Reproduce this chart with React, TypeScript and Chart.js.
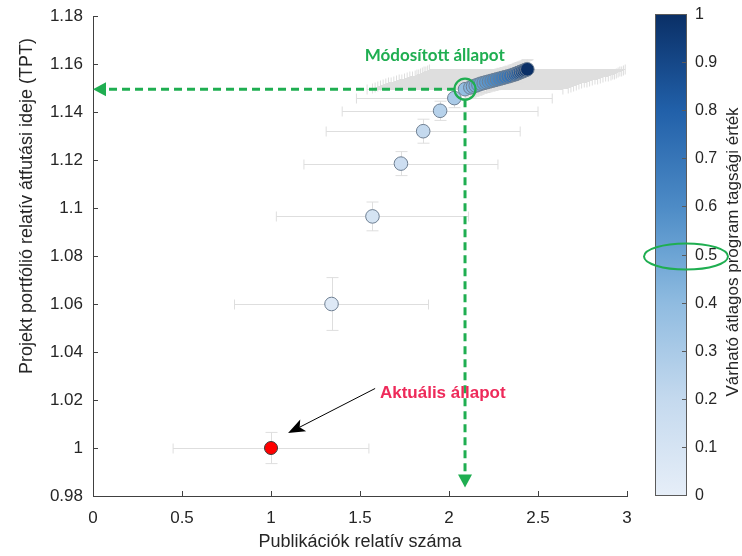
import React, { useEffect, useRef } from "react";
import { Chart, registerables } from "chart.js";

Chart.register(...registerables);

// ---------- data ----------
const xTicks = [0, 0.5, 1, 1.5, 2, 2.5, 3];
const yTicks = [0.98, 1.0, 1.02, 1.04, 1.06, 1.08, 1.1, 1.12, 1.14, 1.16, 1.18];
const cbTicks = [0, 0.1, 0.2, 0.3, 0.4, 0.5, 0.6, 0.7, 0.8, 0.9, 1];

const xTitle = "Publikációk relatív száma";
const yTitle = "Projekt portfólió relatív átfutási ideje (TPT)";
const cbTitle = "Várható átlagos program tagsági érték";
const modifiedLabel = "Módosított állapot";
const currentLabel = "Aktuális állapot";

// current state (red point)
const currentX = [1.0];
const currentY = [1.0];
const currentXErr = [0.55];
const currentYErr = [0.0065];

// path of states, coloured by expected membership value
const pathX = [1.34, 1.57, 1.73, 1.855, 1.95, 2.03, 2.09,
  2.12, 2.135, 2.15, 2.165, 2.18, 2.195, 2.21, 2.225, 2.24, 2.255, 2.27, 2.285, 2.3,
  2.315, 2.33, 2.345, 2.36, 2.37, 2.38, 2.39, 2.4, 2.41, 2.42, 2.43, 2.44];
const pathY = [1.06, 1.0965, 1.1185, 1.132, 1.1405, 1.1458, 1.1495,
  1.1502, 1.1506, 1.151, 1.1514, 1.1518, 1.1521, 1.1524, 1.1527, 1.153, 1.1533, 1.1536, 1.1539, 1.1542,
  1.1545, 1.1548, 1.1551, 1.1555, 1.1557, 1.156, 1.1563, 1.1566, 1.1569, 1.1572, 1.1575, 1.1578];
const pathXErr = [0.545, 0.54, 0.545, 0.545, 0.55, 0.55, 0.55,
  0.55, 0.55, 0.55, 0.55, 0.55, 0.55, 0.55, 0.55, 0.55, 0.55, 0.55, 0.55, 0.55,
  0.55, 0.55, 0.55, 0.55, 0.55, 0.55, 0.55, 0.55, 0.55, 0.55, 0.55, 0.55];
const pathYErr = [0.011, 0.006, 0.005, 0.005, 0.004, 0.004, 0.004,
  0.004, 0.004, 0.004, 0.004, 0.004, 0.004, 0.004, 0.004, 0.004, 0.004, 0.004, 0.004, 0.004,
  0.004, 0.004, 0.004, 0.004, 0.004, 0.004, 0.004, 0.004, 0.004, 0.004, 0.004, 0.004];
const pathMembership = [0.05, 0.1, 0.15, 0.2, 0.25, 0.3, 0.38,
  0.42, 0.44, 0.46, 0.48, 0.5, 0.52, 0.54, 0.56, 0.58, 0.6, 0.62, 0.64, 0.66,
  0.68, 0.7, 0.72, 0.75, 0.78, 0.8, 0.83, 0.86, 0.89, 0.92, 0.96, 1.0];
const modifiedIndex = 6;

// colormap
const cmapStops = [0, 0.2, 0.4, 0.5, 0.6, 0.8, 1];
const cmapColors = ["#e6eef8", "#c4d9ee", "#8fbbe0", "#6ca4d4", "#4d8bc6", "#2160a9", "#0a2f66"];

// annotation anchors (data units)
const modifiedTextPos = { x: 1.92, y: 1.1635 };
const currentTextPos = { x: 1.612, y: 1.0229 };
const blackArrowFrom = { x: 1.585, y: 1.0248 };
const blackArrowTo = { x: 1.096, y: 1.0062 };
const verticalArrowTipY = 0.9835;

// ---------- helpers ----------
function hexToRgb(h: string) {
  const n = parseInt(h.slice(1), 16);
  return [(n >> 16) & 255, (n >> 8) & 255, n & 255];
}
function colorAt(v: number) {
  for (let i = 0; i < cmapStops.length - 1; i++) {
    if (v <= cmapStops[i + 1]) {
      const t = (v - cmapStops[i]) / (cmapStops[i + 1] - cmapStops[i]);
      const a = hexToRgb(cmapColors[i]);
      const b = hexToRgb(cmapColors[i + 1]);
      const c = a.map((av, k) => Math.round(av + (b[k] - av) * t));
      return `rgb(${c[0]},${c[1]},${c[2]})`;
    }
  }
  return cmapColors[cmapColors.length - 1];
}
const fmt = (v: number) => String(parseFloat(v.toFixed(2)));

const GREEN = "#1fae51";
const AXIS = "#404040";
const TEXT = "#262626";
const FONT = "'Liberation Sans', Arial, sans-serif";

function arrow(ctx: CanvasRenderingContext2D, x0: number, y0: number, x1: number, y1: number,
  color: string, width: number, headLen: number, headHalf: number, dash: number[], notch = 0) {
  const ang = Math.atan2(y1 - y0, x1 - x0);
  const bx = x1 - Math.cos(ang) * headLen;
  const by = y1 - Math.sin(ang) * headLen;
  ctx.save();
  ctx.strokeStyle = color;
  ctx.lineWidth = width;
  ctx.setLineDash(dash);
  ctx.beginPath();
  ctx.moveTo(x0, y0);
  ctx.lineTo(bx + Math.cos(ang) * notch, by + Math.sin(ang) * notch);
  ctx.stroke();
  ctx.setLineDash([]);
  ctx.fillStyle = color;
  const px = -Math.sin(ang), py = Math.cos(ang);
  ctx.beginPath();
  ctx.moveTo(x1, y1);
  ctx.lineTo(bx + px * headHalf, by + py * headHalf);
  ctx.lineTo(bx + Math.cos(ang) * notch, by + Math.sin(ang) * notch);
  ctx.lineTo(bx - px * headHalf, by - py * headHalf);
  ctx.closePath();
  ctx.fill();
  ctx.restore();
}

function drawErrorBars(ctx: CanvasRenderingContext2D, sx: any, sy: any,
  xs: number[], ys: number[], xe: number[], ye: number[]) {
  ctx.save();
  ctx.strokeStyle = "#dedede";
  ctx.lineWidth = 1;
  for (let i = 0; i < xs.length; i++) {
    const px = Math.round(sx.getPixelForValue(xs[i])) + 0.5;
    const py = Math.round(sy.getPixelForValue(ys[i])) + 0.5;
    const xl = sx.getPixelForValue(xs[i] - xe[i]);
    const xr = sx.getPixelForValue(xs[i] + xe[i]);
    const yt = sy.getPixelForValue(ys[i] + ye[i]);
    const yb = sy.getPixelForValue(ys[i] - ye[i]);
    ctx.beginPath();
    ctx.moveTo(xl, py); ctx.lineTo(xr, py);
    ctx.moveTo(xl, py - 5); ctx.lineTo(xl, py + 5);
    ctx.moveTo(xr, py - 5); ctx.lineTo(xr, py + 5);
    ctx.moveTo(px, yt); ctx.lineTo(px, yb);
    ctx.moveTo(px - 6, yt); ctx.lineTo(px + 6, yt);
    ctx.moveTo(px - 6, yb); ctx.lineTo(px + 6, yb);
    ctx.stroke();
  }
  ctx.restore();
}

const decorPlugin = {
  id: "decor",
  beforeDatasetsDraw(chart: any) {
    const { ctx, chartArea: a } = chart;
    const sx = chart.scales.x, sy = chart.scales.y;
    ctx.save();
    ctx.beginPath();
    ctx.rect(a.left, a.top, a.right - a.left, a.bottom - a.top);
    ctx.clip();
    drawErrorBars(ctx, sx, sy, currentX, currentY, currentXErr, currentYErr);
    drawErrorBars(ctx, sx, sy, pathX, pathY, pathXErr, pathYErr);
    ctx.restore();
  },
  afterDraw(chart: any) {
    const { ctx, chartArea: a } = chart;
    const sx = chart.scales.x, sy = chart.scales.y, cb = chart.scales.cb;

    // inward tick marks
    ctx.save();
    ctx.strokeStyle = AXIS;
    ctx.lineWidth = 1;
    ctx.beginPath();
    xTicks.forEach((v) => {
      const p = Math.round(sx.getPixelForValue(v)) + 0.5;
      ctx.moveTo(p, a.bottom); ctx.lineTo(p, a.bottom - 5);
    });
    yTicks.forEach((v) => {
      const p = Math.round(sy.getPixelForValue(v)) + 0.5;
      ctx.moveTo(a.left, p); ctx.lineTo(a.left + 5, p);
    });
    ctx.stroke();
    ctx.restore();

    // y axis title
    ctx.save();
    ctx.translate(27, 206);
    ctx.rotate(-Math.PI / 2);
    ctx.font = `18px ${FONT}`;
    ctx.fillStyle = TEXT;
    ctx.textAlign = "center";
    ctx.textBaseline = "middle";
    ctx.fillText(yTitle, 0, 0);
    ctx.restore();

    // green dashed arrows & circle
    const mx = sx.getPixelForValue(pathX[modifiedIndex]);
    const my = sy.getPixelForValue(pathY[modifiedIndex]);
    arrow(ctx, mx - 10, my, sx.getPixelForValue(0), my, GREEN, 3, 13, 7, [8, 5]);
    arrow(ctx, mx, my + 10, mx, sy.getPixelForValue(verticalArrowTipY), GREEN, 3, 13, 7, [8, 5]);
    ctx.save();
    ctx.strokeStyle = GREEN;
    ctx.lineWidth = 2.2;
    ctx.beginPath();
    ctx.arc(mx, my, 10.5, 0, Math.PI * 2);
    ctx.stroke();
    ctx.restore();

    // texts
    ctx.save();
    ctx.font = `bold 17px Lato, 'Open Sans', sans-serif`;
    ctx.fillStyle = GREEN;
    ctx.textAlign = "center";
    ctx.textBaseline = "middle";
    ctx.fillText(modifiedLabel, sx.getPixelForValue(modifiedTextPos.x), sy.getPixelForValue(modifiedTextPos.y));
    ctx.font = `bold 17px ${FONT}`;
    ctx.fillStyle = "#ee2a5a";
    ctx.textAlign = "left";
    ctx.fillText(currentLabel, sx.getPixelForValue(currentTextPos.x), sy.getPixelForValue(currentTextPos.y));
    ctx.restore();

    // black arrow
    arrow(ctx, sx.getPixelForValue(blackArrowFrom.x), sy.getPixelForValue(blackArrowFrom.y),
      sx.getPixelForValue(blackArrowTo.x), sy.getPixelForValue(blackArrowTo.y), "#000", 1, 17, 6.5, [], 4);

    // colorbar
    const cbL = a.right + 28, cbR = a.right + 59;
    const cbTop = cb.getPixelForValue(1) - 2, cbBot = cb.getPixelForValue(0) - 1;
    const g = ctx.createLinearGradient(0, cbBot, 0, cbTop);
    cmapStops.forEach((s, i) => g.addColorStop(s, cmapColors[i]));
    ctx.save();
    ctx.fillStyle = g;
    ctx.fillRect(cbL, cbTop, cbR - cbL, cbBot - cbTop);
    ctx.strokeStyle = "#5a5a5a";
    ctx.lineWidth = 1;
    ctx.strokeRect(Math.round(cbL) + 0.5, Math.round(cbTop) + 0.5, Math.round(cbR - cbL), Math.round(cbBot - cbTop));
    ctx.font = `16px ${FONT}`;
    ctx.fillStyle = TEXT;
    ctx.textAlign = "left";
    ctx.textBaseline = "middle";
    ctx.beginPath();
    cbTicks.forEach((v) => {
      const p = Math.round(cbBot + (cbTop - cbBot) * v) + 0.5;
      ctx.moveTo(cbR, p); ctx.lineTo(cbR - 4, p);
      ctx.fillText(fmt(v), cbR + 9, p);
    });
    ctx.stroke();
    // colorbar title
    ctx.translate(733, 252);
    ctx.rotate(-Math.PI / 2);
    ctx.font = `17px ${FONT}`;
    ctx.textAlign = "center";
    ctx.fillText(cbTitle, 0, 0);
    ctx.restore();

    // green ellipse around 0.5
    ctx.save();
    ctx.strokeStyle = GREEN;
    ctx.lineWidth = 2;
    ctx.beginPath();
    ctx.ellipse(cbR, cbBot + (cbTop - cbBot) * 0.5 + 2, 42, 13, 0, 0, Math.PI * 2);
    ctx.stroke();
    ctx.restore();
  },
};

export default function App() {
  const ref = useRef<HTMLCanvasElement | null>(null);
  useEffect(() => {
    document.body.style.margin = "0";
    const chart = new Chart(ref.current as HTMLCanvasElement, {
      type: "scatter",
      data: {
        datasets: [
          {
            label: "path",
            data: pathX.map((x, i) => ({ x, y: pathY[i] })),
            pointBackgroundColor: pathMembership.map(colorAt),
            pointBorderColor: "#6e7f92",
            pointBorderWidth: 1,
            pointRadius: 6.8,
            order: 1,
          },
          {
            label: "current",
            data: currentX.map((x, i) => ({ x, y: currentY[i] })),
            pointBackgroundColor: "#ff0000",
            pointBorderColor: "#3a3a3a",
            pointBorderWidth: 1,
            pointRadius: 6.5,
            order: 0,
          },
        ],
      },
      options: {
        animation: false,
        responsive: true,
        maintainAspectRatio: false,
        layout: { padding: { top: 16, right: 115, left: 0, bottom: 0 } },
        plugins: { legend: { display: false }, tooltip: { enabled: false } },
        scales: {
          x: {
            type: "linear",
            min: 0,
            max: 3,
            afterBuildTicks: (s: any) => { s.ticks = xTicks.map((v) => ({ value: v })); },
            afterFit: (s: any) => { s.height = 60; s.paddingLeft = 0; s.paddingRight = 0; },
            grid: { drawOnChartArea: false, drawTicks: false },
            border: { display: true, color: AXIS, width: 1 },
            ticks: { color: TEXT, font: { family: FONT, size: 17 }, padding: 12, maxRotation: 0, callback: (v: any) => fmt(Number(v)) },
            title: { display: true, text: xTitle, color: TEXT, font: { family: FONT, size: 18 }, padding: { top: 0, bottom: 3 } },
          },
          y: {
            type: "linear",
            min: 0.98,
            max: 1.18,
            afterBuildTicks: (s: any) => { s.ticks = yTicks.map((v) => ({ value: v })); },
            afterFit: (s: any) => { s.width = 93; s.paddingTop = 0; s.paddingBottom = 0; },
            grid: { drawOnChartArea: false, drawTicks: false },
            border: { display: true, color: AXIS, width: 1 },
            ticks: { color: TEXT, font: { family: FONT, size: 17 }, padding: 10, callback: (v: any) => fmt(Number(v)) },
          },
          cb: { type: "linear", display: false, position: "right", min: 0, max: 1 },
        },
      } as any,
      plugins: [decorPlugin],
    });
    return () => chart.destroy();
  }, []);
  return (
    <div style={{ width: 742, height: 556, position: "relative" }}>
      <canvas ref={ref} />
    </div>
  );
}
